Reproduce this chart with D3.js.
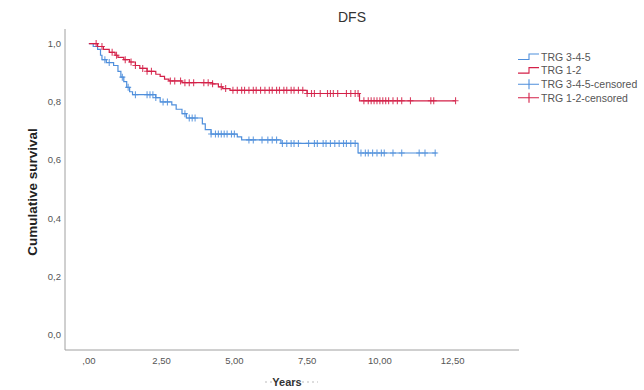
<!DOCTYPE html>
<html>
<head>
<meta charset="utf-8">
<script src="https://cdn.jsdelivr.net/npm/d3@7"></script>
<style>
body { margin: 0; background: #fff; }
svg { font-family: "Liberation Sans", Arial, sans-serif; }
</style>
</head>
<body>
<script>
// шаги кривых: [время, выживаемость после события]
var stepsBlue = [[0,1.0],[0.15,0.99],[0.3,0.98],[0.4,0.96],[0.45,0.945],[0.6,0.935],[0.85,0.925],
    [1.0,0.905],[1.1,0.885],[1.2,0.87],[1.3,0.85],[1.4,0.835],[1.5,0.825],[2.3,0.815],[2.45,0.80],
    [2.85,0.79],[3.0,0.775],[3.2,0.76],[3.35,0.745],[3.9,0.725],[4.0,0.705],[4.2,0.69],[5.1,0.68],
    [5.25,0.67],[6.6,0.658],[9.25,0.625],[11.95,0.625]];
var stepsRed = [[0,1.0],[0.3,0.99],[0.5,0.98],[0.7,0.97],[0.9,0.96],[1.0,0.953],[1.2,0.945],[1.4,0.937],
    [1.6,0.925],[1.75,0.915],[2.0,0.905],[2.3,0.895],[2.45,0.888],[2.6,0.878],[2.75,0.872],[3.2,0.866],
    [4.25,0.862],[4.45,0.852],[4.6,0.846],[4.85,0.840],[7.5,0.829],[9.3,0.804],[12.6,0.804]];
// цензурированные наблюдения
var censBlue = [0.55,0.7,1.15,1.35,1.6,2.0,2.1,2.2,2.3,2.55,2.7,3.3,3.45,3.55,3.65,4.2,4.35,4.45,4.55,4.65,
    4.75,4.9,5.0,5.5,5.65,5.95,6.15,6.3,6.45,6.65,6.8,6.95,7.05,7.2,7.55,7.75,7.85,8.05,8.15,8.3,8.45,8.6,
    8.75,8.85,9.0,9.15,9.35,9.5,9.6,9.75,9.9,10.05,10.15,10.45,10.75,11.35,11.55,11.9];
var censRed = [0.25,0.45,0.8,0.95,1.25,1.45,1.6,1.85,2.0,2.15,2.8,2.95,3.15,3.3,3.45,3.6,3.95,4.1,4.25,4.55,
    4.7,4.95,5.1,5.25,5.35,5.5,5.65,5.75,5.9,6.05,6.2,6.3,6.45,6.55,6.7,6.8,6.95,7.05,7.2,7.35,7.5,7.65,
    7.75,7.95,8.2,8.3,8.4,8.55,8.85,9.0,9.15,9.25,9.45,9.6,9.7,9.8,9.9,10.0,10.1,10.2,10.3,10.45,10.6,
    10.75,11.05,11.75,11.85,12.6];
var xTicks = [0,2.5,5,7.5,10,12.5];
var yTicks = [0,0.2,0.4,0.6,0.8,1.0];
var legendLabels = ["TRG 3-4-5","TRG 1-2","TRG 3-4-5-censored","TRG 1-2-censored"];

var colBlue = "#4f8fdc";
var colRed = "#d42048";

var svg = d3.select("body").append("svg")
    .attr("width", 644)
    .attr("height", 390);

var x = d3.scaleLinear().domain([-0.82, 14.78]).range([65, 519]);
var y = d3.scaleLinear().domain([-0.05, 1.05]).range([350, 29]);

// оси
svg.append("line").attr("x1", 65).attr("x2", 65).attr("y1", 29).attr("y2", 350)
    .attr("stroke", "#a0a0a0").attr("stroke-width", 1);
svg.append("line").attr("x1", 65).attr("x2", 519).attr("y1", 350).attr("y2", 350)
    .attr("stroke", "#a0a0a0").attr("stroke-width", 1);

svg.selectAll(".xt").data(xTicks).enter().append("text")
    .attr("x", function(d){ return x(d); })
    .attr("y", 364)
    .attr("text-anchor", "middle")
    .attr("font-size", 9.5)
    .attr("fill", "#555")
    .text(function(d){ return d == 0 ? ",00" : d.toFixed(2).replace(".", ","); });

svg.selectAll(".yt").data(yTicks).enter().append("text")
    .attr("x", 61)
    .attr("y", function(d){ return y(d) + 3; })
    .attr("text-anchor", "end")
    .attr("font-size", 9.5)
    .attr("fill", "#555")
    .text(function(d){ return d.toFixed(1).replace(".", ","); });

// подписи
svg.append("text").attr("x", 352).attr("y", 22).attr("text-anchor", "middle")
    .attr("font-size", 14).attr("fill", "#333").text("DFS");

svg.append("text").attr("transform", "translate(37,192) rotate(-90)")
    .attr("text-anchor", "middle").attr("font-size", 13.5).attr("font-weight", "bold")
    .attr("fill", "#222").text("Cumulative survival");

svg.append("text").attr("x", 287).attr("y", 386).attr("text-anchor", "middle")
    .attr("font-size", 11).attr("font-weight", "bold").attr("fill", "#333").text("Years");
svg.append("line").attr("x1", 265).attr("x2", 273).attr("y1", 382).attr("y2", 382)
    .attr("stroke", "#bbb").attr("stroke-dasharray", "2,3");
svg.append("line").attr("x1", 302).attr("x2", 318).attr("y1", 382).attr("y2", 382)
    .attr("stroke", "#bbb").attr("stroke-dasharray", "2,3");

// кривые
var line = d3.line()
    .x(function(d){ return x(d[0]); })
    .y(function(d){ return y(d[1]); })
    .curve(d3.curveStepAfter);

function survAt(steps, t) {
    var s = steps[0][1];
    for (var i = 0; i < steps.length; i++) {
        if (steps[i][0] <= t) s = steps[i][1];
    }
    return s;
}

function drawCurve(steps, cens, col) {
    svg.append("path")
        .attr("d", line(steps))
        .attr("fill", "none")
        .attr("stroke", col)
        .attr("stroke-width", 1.2);

    var g = svg.append("g");
    cens.forEach(function(t) {
        var cx = x(t), cy = y(survAt(steps, t));
        g.append("path")
            .attr("d", "M" + (cx - 3) + " " + cy + " L" + (cx + 3) + " " + cy +
                " M" + cx + " " + (cy - 3.5) + " L" + cx + " " + (cy + 3.5))
            .attr("stroke", col)
            .attr("stroke-width", 1.1)
            .attr("opacity", 0.85);
    });
}

drawCurve(stepsBlue, censBlue, colBlue);
drawCurve(stepsRed, censRed, colRed);

// легенда
var legCols = [colBlue, colRed, colBlue, colRed];
legendLabels.forEach(function(lbl, i) {
    var ly = 57 + i * 13.6;
    if (i < 2) {
        svg.append("path")
            .attr("d", "M518 " + (ly + 2.5) + " L529 " + (ly + 2.5) + " L529 " + (ly - 3) + " L539 " + (ly - 3))
            .attr("fill", "none").attr("stroke", legCols[i]).attr("stroke-width", 1.1);
    } else {
        svg.append("path")
            .attr("d", "M518 " + ly + " L539 " + ly + " M529 " + (ly - 5) + " L529 " + (ly + 5))
            .attr("stroke", legCols[i]).attr("stroke-width", 1.1);
    }
    svg.append("text")
        .attr("x", 541)
        .attr("y", ly + 3.8)
        .attr("font-size", 10.5)
        .attr("fill", "#555")
        .text(lbl);
});
</script>
</body>
</html>
